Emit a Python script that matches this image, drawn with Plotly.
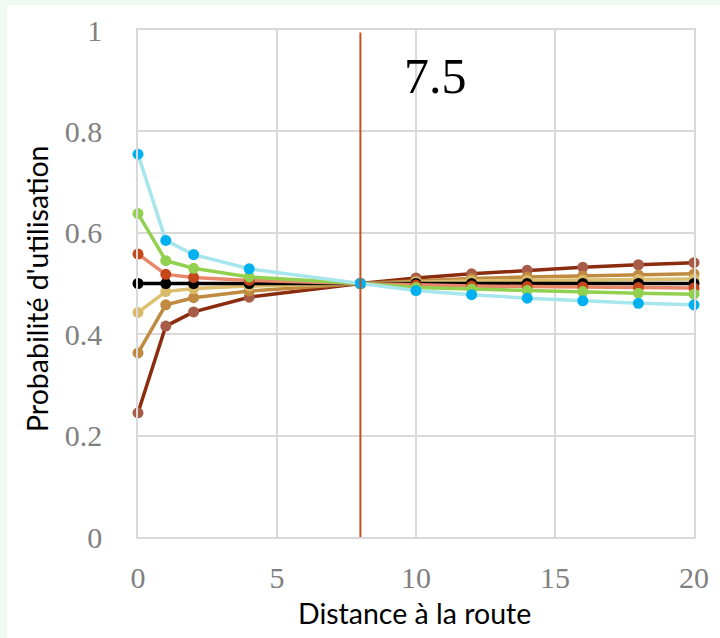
import plotly.graph_objects as go

distance = [0, 1, 2, 4, 8, 10, 12, 14, 16, 18, 20]

s_cyan = [0.755, 0.585, 0.557, 0.529, 0.5, 0.486, 0.478, 0.471, 0.466, 0.461, 0.458]
s_green = [0.638, 0.545, 0.530, 0.513, 0.5, 0.492, 0.489, 0.486, 0.484, 0.481, 0.479]
s_orange = [0.558, 0.518, 0.512, 0.506, 0.5, 0.497, 0.495, 0.494, 0.493, 0.492, 0.491]
s_black = [0.5, 0.5, 0.5, 0.5, 0.5, 0.5, 0.5, 0.5, 0.5, 0.5, 0.5]
s_ltan = [0.443, 0.484, 0.490, 0.495, 0.5, 0.503, 0.505, 0.506, 0.507, 0.508, 0.509]
s_tan = [0.363, 0.458, 0.472, 0.485, 0.5, 0.505, 0.510, 0.513, 0.515, 0.517, 0.519]
s_dbrown = [0.245, 0.416, 0.444, 0.473, 0.5, 0.511, 0.519, 0.526, 0.532, 0.537, 0.541]

series = [
    ("dbrown", s_dbrown, "#8b2c0e", "#a85c48"),
    ("tan", s_tan, "#c08a40", "#c08a40"),
    ("ltan", s_ltan, "#dcc070", "#d8ba6a"),
    ("black", s_black, "#000000", "#000000"),
    ("orange", s_orange, "#e9876a", "#c5461b"),
    ("green", s_green, "#92d050", "#92d050"),
    ("cyan", s_cyan, "#a8e6ee", "#00b0f0"),
]

threshold_x = 8
threshold_label = "7.5"
x_title = "Distance à la route"
y_title = "Probabilité d'utilisation"

y_ticks = [0, 0.2, 0.4, 0.6, 0.8, 1]
y_ticktext = ["0", "0.2", "0.4", "0.6", "0.8", "1"]
x_ticks = [0, 5, 10, 15, 20]

# plot area in pixels
L, R, T, B = 138, 694, 30, 537
W, H = R - L, B - T

fig = go.Figure()
for name, ys, lc, mc in series:
    fig.add_trace(go.Scatter(
        x=distance, y=ys, mode="lines+markers", name=name,
        line=dict(color=lc, width=3.5),
        marker=dict(color=mc, size=11),
        cliponaxis=False,
        showlegend=False,
    ))

fig.add_shape(type="line", xref="x", yref="y", x0=threshold_x, x1=threshold_x,
              y0=0, y1=0.995, line=dict(color="#c5501e", width=2))

# white card over light green background border
fig.add_shape(type="rect", xref="paper", yref="paper", layer="below",
              x0=(7 - L) / W, x1=(725 - L) / W,
              y0=(B - 645) / H, y1=(B - 5) / H,
              fillcolor="white", line=dict(width=0))

fig.add_annotation(x=10.7, y=0.91, xref="x", yref="y", text=threshold_label,
                   showarrow=False,
                   font=dict(family="Liberation Serif", size=50, color="black"))

title_font = dict(family="Lato", size=28.5, color="black")
fig.add_annotation(x=(414.5 - L) / W, y=(B - 613) / H, xref="paper", yref="paper",
                   text=x_title, showarrow=False, xanchor="center", yanchor="middle",
                   font=title_font)
fig.add_annotation(x=(37 - L) / W, y=(B - 289) / H, xref="paper", yref="paper",
                   text=y_title, showarrow=False, xanchor="center", yanchor="middle",
                   textangle=-90, font=title_font)

gray = "#d9d9d9"
tickfont = dict(family="Liberation Serif", size=30, color="#808080")
fig.update_xaxes(range=[0, 20], tickvals=x_ticks, showgrid=True, gridcolor=gray,
                 gridwidth=1.5, zeroline=False, showline=True, mirror=True,
                 linecolor=gray, linewidth=1.5, tickfont=tickfont,
                 ticklabelstandoff=13)
fig.update_yaxes(range=[0, 1], tickvals=y_ticks, ticktext=y_ticktext, showgrid=True,
                 gridcolor=gray, gridwidth=1.5, zeroline=False, showline=True,
                 mirror=True, linecolor=gray, linewidth=1.5, tickfont=tickfont,
                 ticklabelstandoff=28)

fig.update_layout(
    width=720, height=638,
    margin=dict(l=L, r=720 - R, t=T, b=638 - B, autoexpand=False),
    paper_bgcolor="#effaf3",
    plot_bgcolor="white",
)

fig.write_html("out.html", config={"displayModeBar": False},
               post_script="document.body.style.margin='0';document.body.style.overflow='hidden';")
